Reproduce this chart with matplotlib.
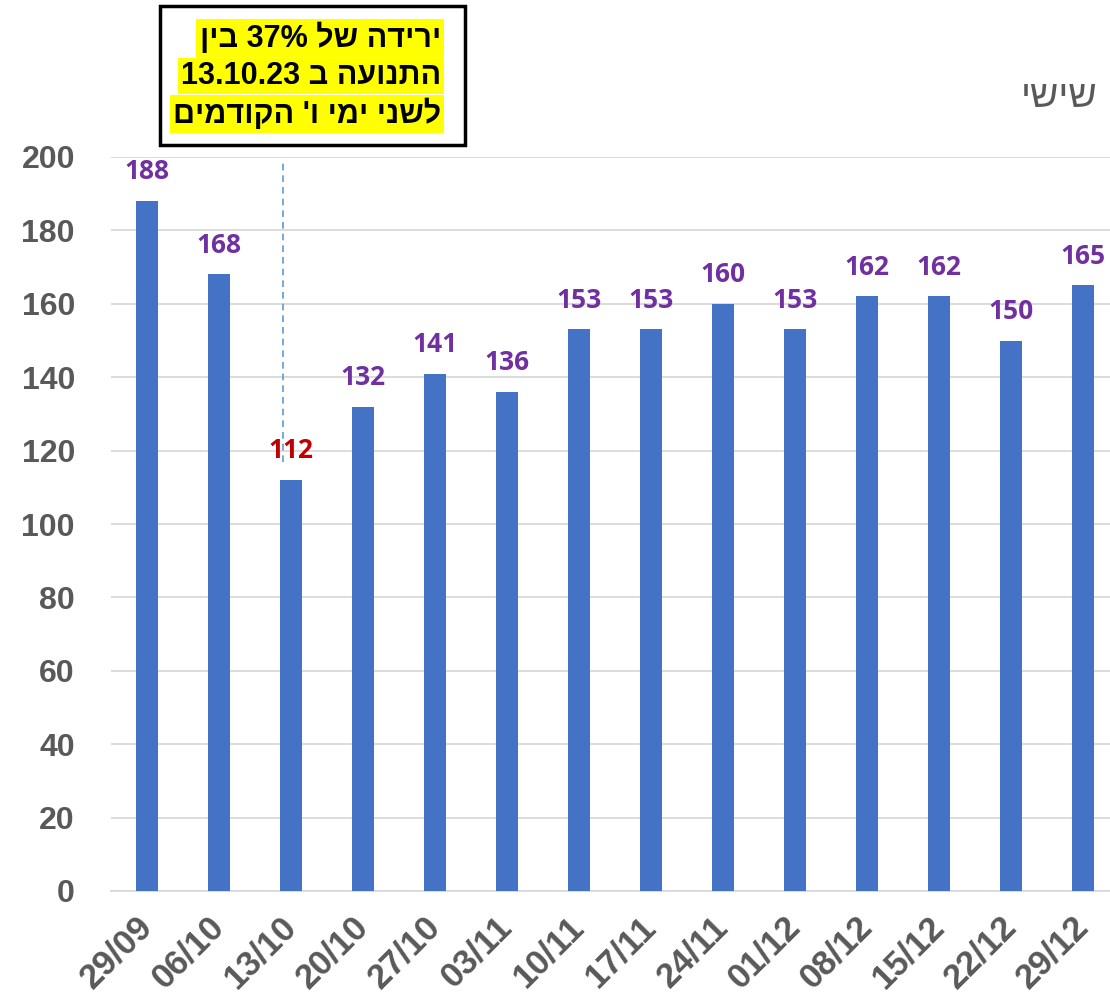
import matplotlib
matplotlib.use("Agg")
import matplotlib.pyplot as plt
from matplotlib.patches import Rectangle

dates = ['29/09', '06/10', '13/10', '20/10', '27/10', '03/11', '10/11',
         '17/11', '24/11', '01/12', '08/12', '15/12', '22/12', '29/12']
values = [188, 168, 112, 132, 141, 136, 153, 153, 160, 153, 162, 162, 150, 165]
highlight_idx = 2  # 13/10

# Hebrew text, typed in visual (left-to-right) order since matplotlib has no bidi
title_text = 'ישיש'  # "שישי"
note_lines = ['ןיב 37% לש הדירי',
              '13.10.23 ב העונתה',
              'םימדוקה \'ו ימי ינשל']

GRAY = '#595959'
BAR = '#4472C4'
PURPLE = '#7030A0'
RED = '#C00000'

fig = plt.figure(figsize=(11.1, 10.07), dpi=100)
ax = fig.add_axes([111/1110, 1 - 891/1007, 999/1110, 734/1007])

x = list(range(len(dates)))
ax.bar(x, values, width=0.305, color=BAR, zorder=3)

for i, v in zip(x, values):
    ax.annotate(str(v), (i, v), xytext=(0, 21), textcoords='offset points',
                ha='center', va='center', fontsize=19, fontweight='bold',
                family=['Open Sans', 'DejaVu Sans'],
                color=RED if i == highlight_idx else PURPLE)

ax.set_xlim(-0.5, 13.375)
ax.set_ylim(0, 200)
ax.set_yticks(range(0, 201, 20))
ax.grid(axis='y', color='#D9D9D9', lw=1.3, zorder=0)
ax.set_axisbelow(True)
for s in ['top', 'right', 'left']:
    ax.spines[s].set_visible(False)
ax.spines['bottom'].set_color('#D9D9D9')
ax.spines['bottom'].set_linewidth(1.3)
ax.tick_params(axis='both', length=0, colors=GRAY)
ax.tick_params(axis='y', pad=26)
ax.tick_params(axis='x', pad=22)

ax.set_xticks(x)
ax.set_xticklabels(dates, rotation=45, ha='right', va='center',
                   rotation_mode='anchor')
for lbl in ax.get_yticklabels():
    lbl.set_fontsize(23)
for lbl in ax.get_xticklabels():
    lbl.set_fontsize(25)
for lbl in ax.get_xticklabels() + ax.get_yticklabels():
    lbl.set_fontweight('bold')
    lbl.set_family(['Liberation Sans', 'DejaVu Sans'])
    lbl.set_color(GRAY)

# dashed marker line above the 13/10 bar
ax.plot([highlight_idx - 0.11, highlight_idx - 0.11], [117, 199], ls=(0, (4, 3)),
        lw=1.2, color='#5B9BD5', clip_on=False, zorder=4)

# unit label top right
fig.text(1098/1110, 1 - 97/1007, title_text, ha='right', va='center',
         fontsize=28, color=GRAY, family=['Liberation Sans', 'DejaVu Sans'])

# annotation box
fig.patches.append(Rectangle((160/1110, 1 - 145/1007), 305/1110, 139/1007,
                             transform=fig.transFigure, fill=False,
                             edgecolor='black', lw=2.5))
for k, line in enumerate(note_lines):
    fig.text(441/1110, 1 - (38 + 38*k)/1007, line, ha='right', va='center',
             fontsize=22, fontweight='bold', color='black',
             family=['Liberation Sans', 'DejaVu Sans'],
             bbox=dict(facecolor='#FFFF00', edgecolor='none', pad=2.5))

fig.savefig('out.png', dpi=100)
